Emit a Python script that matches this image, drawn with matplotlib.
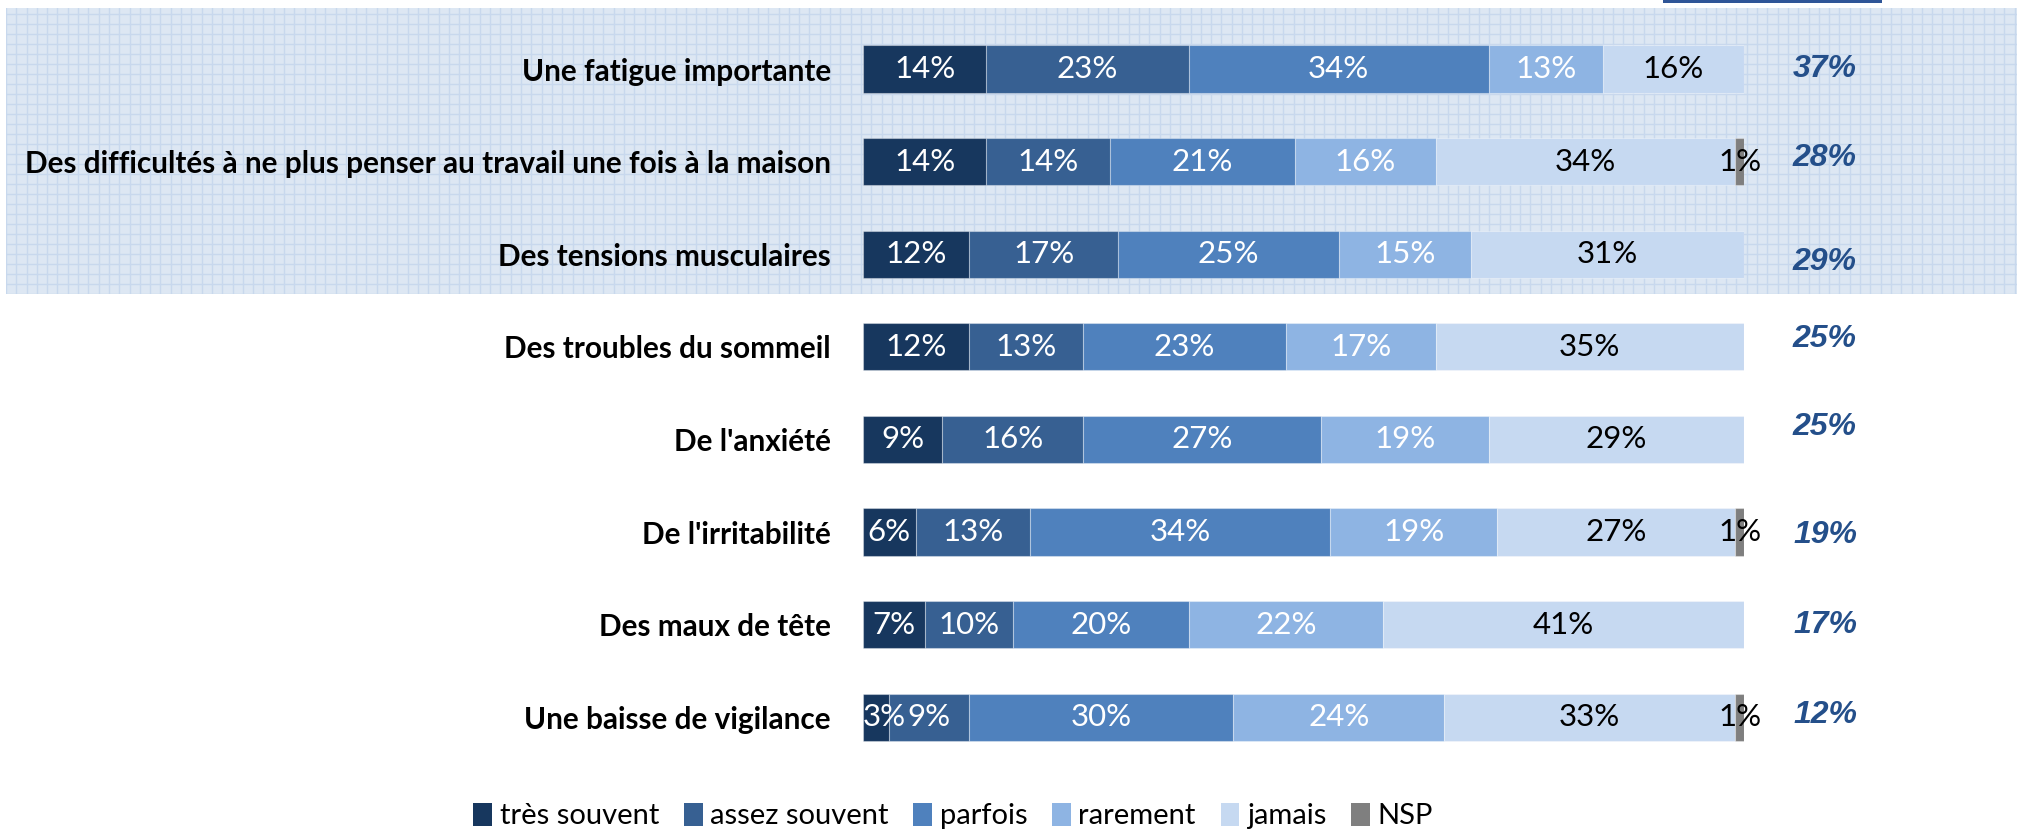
import matplotlib
matplotlib.use("Agg")
import matplotlib.pyplot as plt
from matplotlib.patches import Rectangle, Patch
from matplotlib.ticker import MultipleLocator

# ---------------- data ----------------
categories = [
    "Une fatigue importante",
    "Des difficultés à ne plus penser au travail une fois à la maison",
    "Des tensions musculaires",
    "Des troubles du sommeil",
    "De l'anxiété",
    "De l'irritabilité",
    "Des maux de tête",
    "Une baisse de vigilance",
]
series_names = ["très souvent", "assez souvent", "parfois", "rarement", "jamais", "NSP"]
tres_souvent = [14, 14, 12, 12, 9, 6, 7, 3]
assez_souvent = [23, 14, 17, 13, 16, 13, 10, 9]
parfois = [34, 21, 25, 23, 27, 34, 20, 30]
rarement = [13, 16, 15, 17, 19, 19, 22, 24]
jamais = [16, 34, 31, 35, 29, 27, 41, 33]
nsp = [0, 1, 0, 0, 0, 1, 0, 1]
totals = [37, 28, 29, 25, 25, 19, 17, 12]

# ---------------- style ----------------
colors = ["#17375E", "#376092", "#4F81BD", "#8EB4E3", "#C6D9F1", "#7F7F7F"]
label_colors = ["white", "white", "white", "white", "black", "black"]
total_color = "#244F8A"
# small vertical nudges of the right-hand totals (layout only)
total_dy = [0.0, -0.04, 0.08, -0.08, -0.13, 0.03, 0.0, -0.02]

W, H = 2020, 832
fig = plt.figure(figsize=(W / 100, H / 100), dpi=100)
fig.patch.set_facecolor("white")

# background grid panel (top area)
bg = fig.add_axes([6 / W, 1 - 294 / H, (2017 - 6) / W, (294 - 8) / H], zorder=0)
bg.set_facecolor("#DDE7F3")
bg.set_xlim(0, 2011)
bg.set_ylim(0, 286)
bg.xaxis.set_major_locator(MultipleLocator(10.3))
bg.yaxis.set_major_locator(MultipleLocator(10))
bg.grid(True, color="#C8D8ED", linewidth=1.0)
bg.tick_params(length=0, labelbottom=False, labelleft=False)
for s in bg.spines.values():
    s.set_visible(False)

# top blue line
fig.add_artist(Rectangle((1663 / W, 1 - 3 / H), 219 / W, 3 / H,
                         transform=fig.transFigure, facecolor="#2F5597",
                         edgecolor="none", zorder=5))

# main axes
left_px, right_px = 863, 1744
row_h = 92.6
top_px = 69 - row_h / 2
ax = fig.add_axes([left_px / W, 1 - (top_px + 8 * row_h) / H,
                   (right_px - left_px) / W, 8 * row_h / H], zorder=2)
ax.patch.set_visible(False)
ax.set_xlim(0, 100)
ax.set_ylim(len(categories) - 0.5, -0.5)

all_series = [tres_souvent, assez_souvent, parfois, rarement, jamais, nsp]
y = list(range(len(categories)))
lefts = [0] * len(categories)
bar_h = 0.51
seg_labels = []
for k, vals in enumerate(all_series):
    ax.barh(y, vals, left=lefts, height=bar_h, color=colors[k],
            edgecolor=(1, 1, 1, 0.35), linewidth=0.8, label=series_names[k])
    for i, v in enumerate(vals):
        if v > 0:
            t = ax.text(lefts[i] + v / 2, i, f"{v}%", ha="center", va="center",
                        color=label_colors[k], fontsize=22.5, family="Lato")
            seg_labels.append(t)
    lefts = [l + v for l, v in zip(lefts, vals)]

ax.set_yticks(y)
ax.set_yticklabels(categories, fontsize=21.4, fontweight="bold", family="Lato")
ax.tick_params(axis="y", length=0, pad=23)
ax.tick_params(axis="x", length=0, labelbottom=False)
for s in ax.spines.values():
    s.set_visible(False)

# keep segment labels inside the plot area (like the original)
fig.canvas.draw()
renderer = fig.canvas.get_renderer()
ax_bb = ax.get_window_extent(renderer)
for t in seg_labels:
    bb = t.get_window_extent(renderer)
    if bb.x0 < ax_bb.x0:
        t.set_ha("left")
        t.set_x(0)

# totals on the right
x_tot = (1857 - left_px) / (right_px - left_px) * 100
for i, tv in enumerate(totals):
    ax.text(x_tot, i + total_dy[i], f"{tv}%", ha="right", va="center",
            color=total_color, fontsize=23, fontweight="bold",
            fontstyle="italic", family="Liberation Sans", clip_on=False)

# legend
handles = [Patch(facecolor=c, edgecolor="none") for c in colors]
fig.legend(handles, series_names, loc="center", ncol=6,
           bbox_to_anchor=(953 / W, 1 - 816 / H), frameon=False,
           prop={"family": "Lato", "size": 21}, handlelength=0.65,
           handleheight=0.85, handletextpad=0.25, columnspacing=0.85)

fig.savefig("out.png", dpi=100)
